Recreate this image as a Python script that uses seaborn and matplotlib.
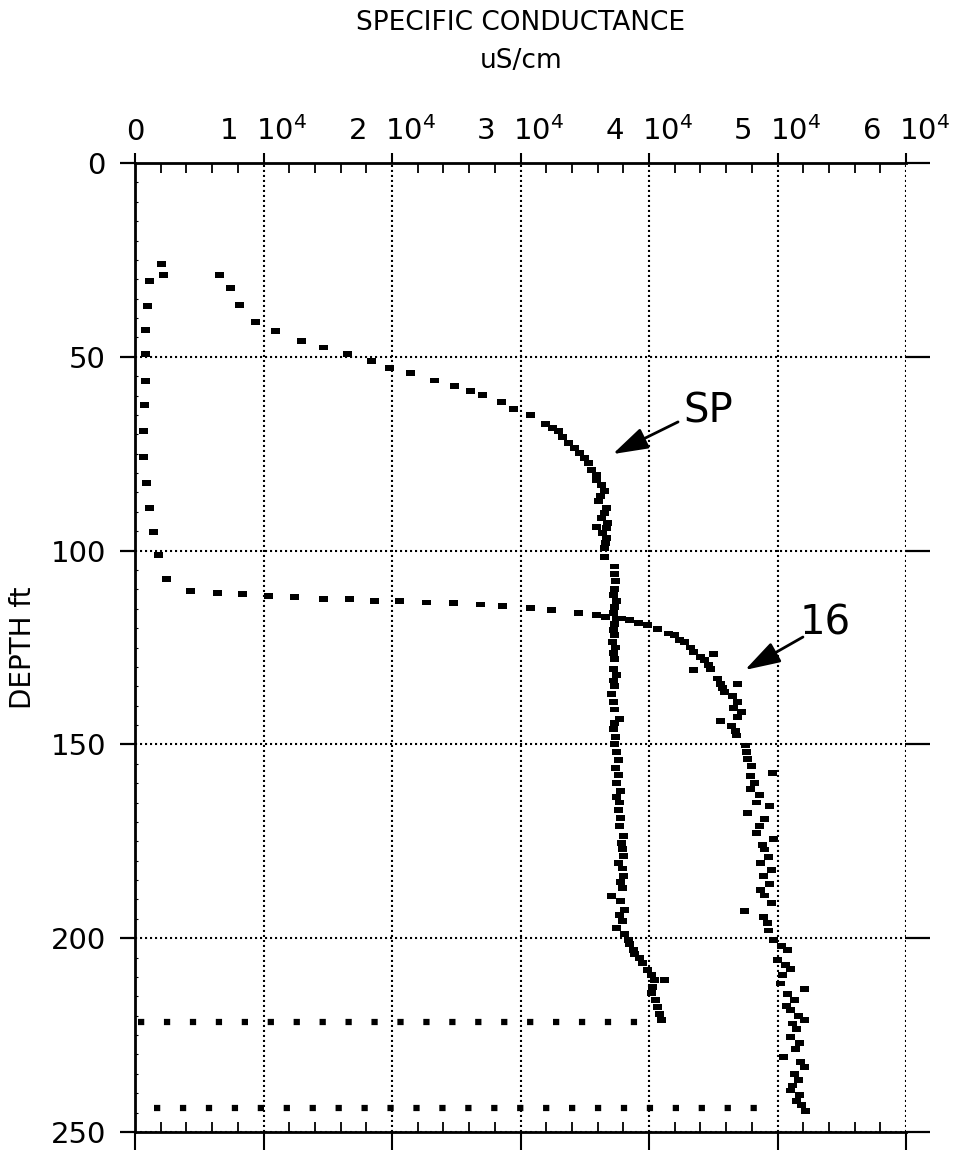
import numpy as np
import pandas as pd
import seaborn as sns
import matplotlib.pyplot as plt
from matplotlib.ticker import FixedLocator, MultipleLocator

sns.set_theme(style="white")
plt.rcParams['font.family'] = ['DejaVu Sans']
plt.rcParams['mathtext.fontset'] = 'dejavusans'
plt.rcParams['text.color'] = 'black'
plt.rcParams['axes.labelcolor'] = 'black'
plt.rcParams['xtick.color'] = 'black'
plt.rcParams['ytick.color'] = 'black'

# ---------------- data ----------------
depth_16 = [26.0, 29.0, 30.5, 36.8, 43.1, 49.3, 56.2, 62.5, 69.2, 75.9, 82.6, 88.9, 95.1,
            101.1, 107.3, 110.4, 110.9, 111.3, 111.7, 112.0, 112.4, 112.5, 112.9, 113.0,
            113.4, 113.6, 113.9, 114.2, 114.8, 115.4, 116.0, 116.7, 117.1, 117.5, 118.0,
            118.6, 119.1, 120.3, 121.4, 121.8, 123.0, 123.6, 125.0, 126.2, 126.6, 127.5,
            128.3, 129.5, 130.5, 130.9, 133.0, 134.4, 134.4, 135.5, 136.5, 137.5, 139.1,
            140.5, 141.7, 143.0, 143.9, 145.2, 146.5, 147.7, 150.3, 152.0, 153.8, 155.5,
            157.3, 158.1, 160.0, 161.6, 163.0, 165.0, 166.0, 167.6, 169.3, 171.0, 172.8,
            174.5, 176.0, 177.1, 179.0, 180.5, 182.3, 184.0, 186.0, 187.5, 189.0, 191.0,
            193.0, 194.5, 196.0, 198.0, 200.4, 202.0, 203.0, 205.6, 207.0, 208.0, 209.5,
            211.7, 213.0, 214.5, 216.0, 217.5, 218.6, 220.0, 221.0, 222.0, 223.5, 225.4,
            227.0, 228.5, 230.6, 232.0, 233.2, 235.0, 236.5, 238.0, 239.3, 240.5, 242.0,
            243.0, 244.5]
cond_16 = [2070, 2200, 1160, 950, 850, 850, 830, 770, 700, 700, 900, 1160, 1420,
           1810, 2460, 4320, 6410, 8350, 10400, 12400, 14650, 16670, 18600, 20600,
           22700, 24800, 26900, 28600, 30750, 32400, 34500, 35900, 36600, 37850, 38500,
           39150, 39900, 40700, 41500, 42000, 42400, 42800, 43200, 43500, 45000, 44000,
           44300, 44600, 44800, 43500, 45300, 45600, 46900, 45700, 45900, 46500, 46900,
           46600, 47200, 46900, 45600, 46400, 46700, 46800, 47500, 47600, 47700, 48000,
           49600, 47900, 48200, 47900, 48600, 48400, 49400, 47700, 49000, 48600, 48400,
           49700, 48800, 49000, 49300, 48700, 49500, 48900, 49400, 48700, 49000, 49500,
           47400, 48900, 49200, 49300, 49700, 50300, 50800, 50000, 50600, 51000, 50400,
           50200, 52100, 50800, 51300, 50700, 51000, 51600, 52100, 51200, 51500, 51000,
           51700, 51400, 50500, 51800, 52100, 51300, 51600, 51200, 51000, 51700, 51500,
           51900, 52200]

depth_sp = [29.0, 32.3, 36.6, 41.1, 43.4, 45.9, 47.6, 49.3, 51.0, 52.8, 54.2, 56.1, 57.5,
            58.8, 59.9, 61.7, 63.4, 65.1, 67.3, 68.3, 69.2, 70.7, 72.2, 73.5, 74.8, 76.0,
            77.4, 79.1, 80.4, 81.7, 83.0, 84.7, 86.0, 87.3, 89.0, 90.3, 91.6, 92.8, 94.0,
            94.2, 95.5, 96.8, 98.0, 99.4, 101.6, 104.1, 106.0, 107.8, 109.8, 111.5, 113.0,
            114.5, 116.0, 117.5, 119.0, 120.5, 121.8, 123.5, 125.0, 126.5, 128.0, 130.5,
            132.0, 133.5, 135.0, 137.0, 139.1, 141.0, 143.4, 144.5, 146.0, 148.0, 150.0,
            152.0, 154.0, 156.0, 158.0, 160.0, 162.0, 163.5, 165.0, 167.0, 169.0, 171.0,
            173.6, 175.4, 177.0, 178.8, 180.6, 182.0, 184.0, 185.5, 187.0, 189.2, 190.5,
            192.7, 194.0, 195.5, 197.4, 199.0, 200.4, 201.5, 203.0, 204.0, 205.2, 206.5,
            208.2, 209.5, 210.8, 210.8, 212.5, 214.2, 216.0, 217.7, 219.5, 221.2]
cond_sp = [6590, 7440, 8140, 9380, 10930, 12920, 14670, 16530, 18400, 19770, 21450, 23300, 24900,
           26100, 27050, 28500, 29420, 30800, 31950, 32500, 32950, 33300, 33720, 34200, 34630, 35000,
           35270, 35530, 35900, 35920, 36300, 36570, 36200, 36050, 36700, 36500, 36300, 36800, 35920,
           36700, 36400, 36700, 36600, 36570, 36570, 37340, 37300, 37400, 37340, 37200, 37450,
           37300, 37200, 37500, 37300, 37250, 37340, 37150, 37400, 37200, 37350, 37200,
           37450, 37250, 37300, 37100, 37200, 37350, 37730, 37300, 37200, 37400, 37350,
           37470, 37600, 37400, 37600, 37500, 37750, 37500, 37730, 37650, 37800, 37700,
           38000, 37860, 37900, 38000, 37600, 37900, 38000, 37800, 37900, 37080, 37800,
           38100, 37700, 37900, 37470, 38100, 38370, 38500, 38760, 38900, 39280, 39500,
           39920, 40200, 40440, 41220, 40300, 40180, 40500, 40700, 40800, 40950]

hline_depths = [221.5, 243.7]
hline_start = [230, 1450]
hline_end = [39200, 48400]

xtick_vals = [0, 10000, 20000, 30000, 40000, 50000, 60000]
xtick_labels = ['0', '1  10$^4$', '2  10$^4$', '3  10$^4$', '4  10$^4$', '5  10$^4$', '6  10$^4$']
ytick_vals = [0, 50, 100, 150, 200, 250]

labels = ['16', 'SP']
label_xy = [(51750, 118.9), (42650, 64.2)]
arrow_tail = [(51980, 122.3), (42260, 66.8)]
arrow_tip = [(47470, 130.8), (37180, 75.1)]

df = pd.concat([
    pd.DataFrame({'cond': cond_16, 'depth': depth_16, 'well': '16'}),
    pd.DataFrame({'cond': cond_sp, 'depth': depth_sp, 'well': 'SP'}),
], ignore_index=True)

# ---------------- figure ----------------
W, H = 957, 1153
fig = plt.figure(figsize=(W / 100, H / 100), dpi=100)
ax = fig.add_axes([135 / W, 1 - 1132 / H, 771 / W, 969 / H])
ax.set_facecolor('white')

rect = [(-1, -0.65), (1, -0.65), (1, 0.65), (-1, 0.65), (-1, -0.65)]
sns.scatterplot(data=df, x='cond', y='depth', hue='well',
                palette={'16': 'black', 'SP': 'black'}, marker=rect, s=42,
                linewidth=0, legend=False, ax=ax, zorder=3)

ax.hlines(hline_depths, hline_start, hline_end, colors='black', linewidth=4.5,
          linestyles=[(0, (1, 3.15))], zorder=3)

ax.set_xlim(0, 60000)
ax.set_ylim(250, 0)
ax.set_xlabel('')
ax.set_ylabel('')

ax.xaxis.set_major_locator(FixedLocator(xtick_vals))
ax.set_xticklabels(xtick_labels)
ax.xaxis.set_minor_locator(MultipleLocator(2000))
ax.yaxis.set_major_locator(FixedLocator(ytick_vals))
ax.yaxis.set_minor_locator(MultipleLocator(5))

ax.tick_params(axis='x', which='major', top=True, bottom=True, labeltop=True,
               labelbottom=False, direction='out', length=8, width=1.5,
               labelsize=21, pad=4, color='black', labelcolor='black')
ax.tick_params(axis='x', which='minor', top=True, bottom=True, direction='in',
               length=7, width=1.3, color='black')
ax.tick_params(axis='y', which='major', left=True, right=True, labelleft=True,
               labelright=False, direction='out', length=11, width=1.6,
               labelsize=21, pad=10, color='black', labelcolor='black')
ax.tick_params(axis='y', which='minor', left=True, right=False, direction='in',
               length=2, width=0.8, color='black')

for t in ax.xaxis.get_major_ticks():
    t.tick1line.set_markersize(13)
    t.tick2line.set_markersize(7)
for t in ax.yaxis.get_major_ticks():
    t.tick2line.set_markersize(17)

ax.grid(True, which='major', color='black', linewidth=1.5, linestyle=(0, (1, 1.4)))
ax.grid(False, which='minor')

for side in ['left', 'top', 'bottom']:
    ax.spines[side].set_visible(True)
    ax.spines[side].set_color('black')
    ax.spines[side].set_linewidth(2.0)
ax.spines['right'].set_visible(False)

for lab, xy, tail, tip in zip(labels, label_xy, arrow_tail, arrow_tip):
    ax.text(xy[0], xy[1], lab, fontsize=29, ha='left', va='center', color='black', zorder=5)
    ax.annotate('', xy=tip, xytext=tail,
                arrowprops=dict(arrowstyle='-|>,head_length=0.9,head_width=0.28',
                                color='black', lw=2, mutation_scale=24, shrinkA=0, shrinkB=0),
                zorder=5)

fig.text(521 / W, 1 - 23 / H, 'SPECIFIC CONDUCTANCE', fontsize=19, ha='center', va='center',
         color='black')
fig.text(521 / W, 1 - 61 / H, 'uS/cm', fontsize=19, ha='center', va='center', color='black')
fig.text(23 / W, 1 - 648 / H, 'DEPTH ft', fontsize=20, rotation=90, ha='center', va='center',
         color='black')

fig.savefig('out.png', dpi=100, facecolor='white')
